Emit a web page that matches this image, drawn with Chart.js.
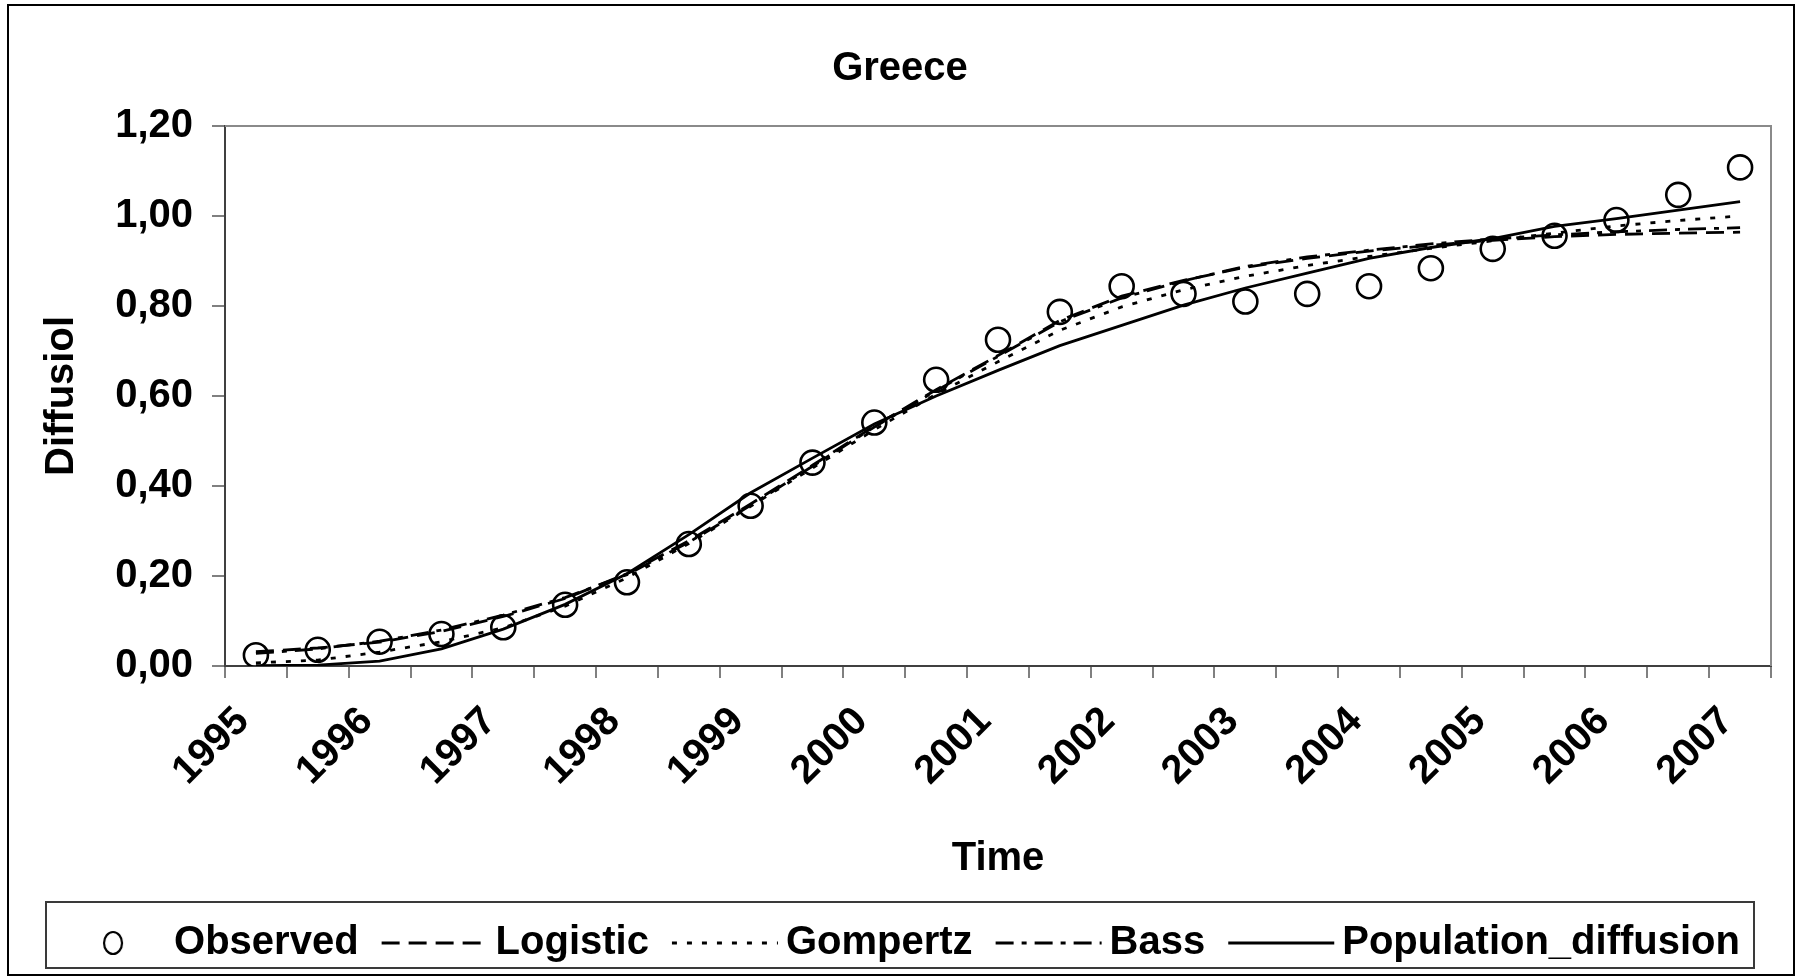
<!DOCTYPE html>
<html>
<head>
<meta charset="utf-8">
<title>Greece</title>
<script src="https://cdn.jsdelivr.net/npm/chart.js@4/dist/chart.umd.min.js"></script>
<style>
  html, body { margin: 0; padding: 0; background: #fff; }
  #wrap { width: 1800px; height: 977px; }
</style>
</head>
<body>
<div id="wrap"><canvas id="chart" width="1800" height="977"></canvas></div>
<script>
// Half-yearly observation periods
const periods = [
  '1995 H1', '1995 H2', '1996 H1', '1996 H2', '1997 H1', '1997 H2', '1998 H1', '1998 H2',
  '1999 H1', '1999 H2', '2000 H1', '2000 H2', '2001 H1', '2001 H2', '2002 H1', '2002 H2',
  '2003 H1', '2003 H2', '2004 H1', '2004 H2', '2005 H1', '2005 H2', '2006 H1', '2006 H2',
  '2007 H1'
];
// Year labels shown on every second period
const yearLabels = ['1995', '1996', '1997', '1998', '1999', '2000', '2001',
                    '2002', '2003', '2004', '2005', '2006', '2007'];
const yTickValues = [0, 0.2, 0.4, 0.6, 0.8, 1.0, 1.2];

// Diffusion level per period
const observed = [0.024, 0.036, 0.054, 0.071, 0.086, 0.136, 0.186, 0.271, 0.356, 0.452,
                  0.541, 0.636, 0.725, 0.787, 0.844, 0.827, 0.810, 0.827, 0.844, 0.884,
                  0.927, 0.956, 0.991, 1.047, 1.108];
const logistic = [0.032, 0.040, 0.053, 0.077, 0.110, 0.150, 0.205, 0.278, 0.360, 0.446,
                  0.533, 0.614, 0.690, 0.768, 0.822, 0.857, 0.886, 0.906, 0.922, 0.935,
                  0.946, 0.954, 0.959, 0.962, 0.964];
const gompertz = [0.007, 0.013, 0.031, 0.054, 0.085, 0.133, 0.196, 0.272, 0.355, 0.440,
                  0.525, 0.604, 0.676, 0.746, 0.798, 0.836, 0.866, 0.890, 0.910, 0.928,
                  0.945, 0.962, 0.978, 0.990, 1.000];
const bass = [0.028, 0.038, 0.055, 0.080, 0.113, 0.152, 0.203, 0.275, 0.357, 0.444,
              0.531, 0.612, 0.688, 0.765, 0.818, 0.856, 0.888, 0.909, 0.924, 0.938,
              0.949, 0.958, 0.965, 0.970, 0.974];
const populationDiffusion = [0.001, 0.002, 0.011, 0.038, 0.082, 0.137, 0.205, 0.292, 0.385, 0.462,
                             0.538, 0.600, 0.657, 0.712, 0.757, 0.802, 0.840, 0.873, 0.906, 0.930,
                             0.950, 0.977, 0.994, 1.013, 1.032];

const FONT = "'Liberation Sans', Arial, Helvetica, sans-serif";
Chart.defaults.font.family = FONT;
Chart.defaults.color = '#000';

const lineStyle = (label, data, dash) => ({
  label, data,
  borderColor: '#000',
  borderWidth: 2.8,
  borderDash: dash,
  pointRadius: 0,
  pointHoverRadius: 0,
  tension: 0,
  fill: false,
  yAxisID: 'y'
});

const datasets = [
  {
    label: 'Observed',
    data: observed,
    showLine: false,
    pointStyle: 'circle',
    pointRadius: 12,
    pointHoverRadius: 12,
    pointBorderWidth: 2.6,
    pointBorderColor: '#000',
    pointBackgroundColor: 'rgba(0,0,0,0)',
    borderColor: '#000',
    yAxisID: 'y'
  },
  lineStyle('Logistic', logistic, [18, 9]),
  lineStyle('Gompertz', gompertz, [5, 10]),
  lineStyle('Bass', bass, [18, 8, 5, 8]),
  lineStyle('Population_diffusion', populationDiffusion, [])
];

// Small sample drawings used as legend symbols
function legendSwatch(ds) {
  const c = document.createElement('canvas');
  c.width = 120; c.height = 30;
  const g = c.getContext('2d');
  g.strokeStyle = '#000';
  if (ds.showLine === false) {
    g.lineWidth = 2.2;
    g.beginPath();
    g.ellipse(66, 15, 9, 11, 0, 0, Math.PI * 2);
    g.stroke();
  } else {
    g.lineWidth = 2.8;
    g.setLineDash(ds.borderDash || []);
    g.beginPath();
    g.moveTo(13, 15);
    g.lineTo(119, 15);
    g.stroke();
  }
  return c;
}

const frame = {
  id: 'frame',
  beforeDraw(chart) {
    const ctx = chart.ctx;
    ctx.save();
    ctx.fillStyle = '#fff';
    ctx.fillRect(0, 0, chart.width, chart.height);
    ctx.restore();
  },
  beforeDatasetsDraw(chart) {
    const { ctx, chartArea: a } = chart;
    ctx.save();
    ctx.strokeStyle = '#8a8a8a';
    ctx.lineWidth = 2;
    ctx.beginPath();
    ctx.moveTo(a.left, a.top);
    ctx.lineTo(a.right, a.top);
    ctx.lineTo(a.right, a.bottom);
    ctx.stroke();
    ctx.restore();
  },
  afterDraw(chart) {
    const ctx = chart.ctx;
    ctx.save();
    ctx.lineWidth = 2;
    ctx.strokeStyle = '#3a3a3a';
    ctx.strokeRect(46, 902, 1708, 66);
    ctx.strokeStyle = '#000';
    ctx.strokeRect(8, 5, 1786, 970);
    ctx.restore();
  }
};

new Chart(document.getElementById('chart'), {
  type: 'line',
  data: { labels: periods, datasets },
  plugins: [frame],
  options: {
    responsive: false,
    animation: false,
    devicePixelRatio: 1,
    events: [],
    layout: { padding: { left: 8, right: 8, top: 0, bottom: 4 } },
    plugins: {
      tooltip: { enabled: false },
      title: {
        display: true,
        text: 'Greece',
        color: '#000',
        font: { size: 40, weight: 'bold', family: FONT },
        padding: { top: 45, bottom: 33 }
      },
      legend: {
        display: true,
        position: 'bottom',
        labels: {
          usePointStyle: true,
          pointStyleWidth: 94,
          padding: 23,
          color: '#000',
          font: { size: 40, weight: 'bold', family: FONT },
          generateLabels(chart) {
            return chart.data.datasets.map((ds, i) => ({
              text: ds.label,
              fontColor: '#000',
              pointStyle: legendSwatch(ds),
              lineWidth: 0,
              strokeStyle: 'rgba(0,0,0,0)',
              fillStyle: 'rgba(0,0,0,0)',
              hidden: false,
              datasetIndex: i
            }));
          }
        }
      }
    },
    scales: {
      x: {
        type: 'category',
        offset: true,
        afterFit(scale) { scale.height = 234; },
        grid: {
          display: true,
          offset: true,
          drawOnChartArea: false,
          drawTicks: true,
          tickLength: 12,
          color: '#808080',
          lineWidth: 2
        },
        border: { display: true, color: '#404040', width: 2 },
        ticks: {
          autoSkip: false,
          minRotation: 45,
          maxRotation: 45,
          padding: 20,
          labelOffset: -13,
          color: '#000',
          font: { size: 40, weight: 'bold', family: FONT },
          callback: (v, i) => (i % 2 === 0 ? yearLabels[i / 2] : '')
        },
        title: {
          display: true,
          text: 'Time',
          color: '#000',
          font: { size: 40, weight: 'bold', family: FONT },
          padding: { top: 0, bottom: 17 }
        }
      },
      y: {
        min: 0,
        max: 1.2,
        afterFit(scale) { scale.width = 217; },
        afterBuildTicks(scale) { scale.ticks = yTickValues.map(v => ({ value: v })); },
        grid: {
          display: true,
          drawOnChartArea: false,
          drawTicks: true,
          tickLength: 13,
          color: '#808080',
          lineWidth: 2
        },
        border: { display: true, color: '#404040', width: 2 },
        ticks: {
          padding: 19,
          color: '#000',
          font: { size: 40, weight: 'bold', family: FONT },
          callback: v => v.toFixed(2).replace('.', ',')
        },
        title: {
          display: true,
          text: 'Diffusiol',
          color: '#000',
          font: { size: 40, weight: 'bold', family: FONT },
          padding: { top: 30, bottom: 0 }
        }
      },
      // empty right-hand margin beside the plot
      edge: {
        type: 'linear',
        position: 'right',
        display: true,
        afterFit(scale) { scale.width = 21; },
        grid: { display: false },
        border: { display: false },
        ticks: { display: false }
      }
    }
  }
});
</script>
</body>
</html>
